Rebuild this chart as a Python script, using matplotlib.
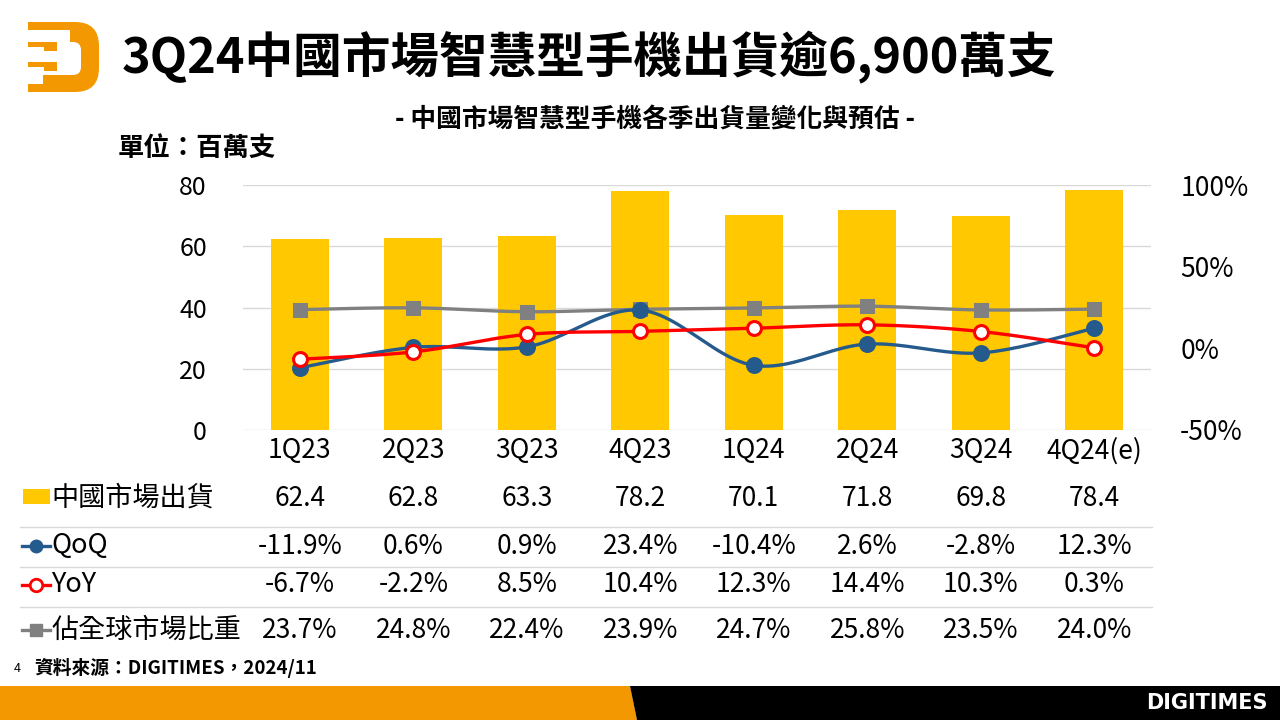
import numpy as np
import matplotlib.pyplot as plt
import matplotlib.transforms as mtransforms
from matplotlib.patches import Rectangle, FancyBboxPatch, Polygon

plt.rcParams['font.family'] = ['Noto Sans CJK TC', 'DejaVu Sans']

# 資料
quarters = ['1Q23', '2Q23', '3Q23', '4Q23', '1Q24', '2Q24', '3Q24', '4Q24(e)']
shipments = [62.4, 62.8, 63.3, 78.2, 70.1, 71.8, 69.8, 78.4]   # 百萬支
qoq = [-11.9, 0.6, 0.9, 23.4, -10.4, 2.6, -2.8, 12.3]          # %
yoy = [-6.7, -2.2, 8.5, 10.4, 12.3, 14.4, 10.3, 0.3]           # %
share = [23.7, 24.8, 22.4, 23.9, 24.7, 25.8, 23.5, 24.0]       # %

row_labels = ['中國市場出貨', 'QoQ', 'YoY', '佔全球市場比重']

BAR = '#FFC800'
BLUE = '#255A8C'
RED = '#FF0000'
GRAY = '#808080'
ORANGE = '#F39800'
GRID = '#D9D9D9'


def smooth(x, y, n=24):
    # 類似 Excel 平滑線 (Catmull-Rom -> Bezier)，只用於畫線
    p = np.column_stack([x, y]).astype(float)
    pp = np.vstack([p[0], p, p[-1]])
    t = np.linspace(0, 1, n)[:, None]
    out = []
    for i in range(len(p) - 1):
        p0, p1, p2, p3 = pp[i], pp[i + 1], pp[i + 2], pp[i + 3]
        c1 = p1 + (p2 - p0) / 6
        c2 = p2 - (p3 - p1) / 6
        seg = ((1 - t) ** 3) * p1 + 3 * ((1 - t) ** 2) * t * c1 + 3 * (1 - t) * t ** 2 * c2 + t ** 3 * p2
        out.append(seg if i == 0 else seg[1:])
    out = np.vstack(out)
    return out[:, 0], out[:, 1]


W, H = 1280, 720
fig = plt.figure(figsize=(12.8, 7.2), dpi=100)

# 主圖
ax = fig.add_axes([243 / W, 1 - 430 / H, 908 / W, 245 / H])
x = np.arange(len(quarters))
ax.bar(x, shipments, width=0.51, color=BAR, zorder=2)
ax.set_xlim(-0.5, len(quarters) - 0.5)
ax.set_ylim(0, 80)
ax.set_yticks([0, 20, 40, 60, 80])
ax.set_xticks(x)
ax.set_xticklabels(quarters)
ax.tick_params(axis='y', length=0, pad=26, labelsize=18)
ax.tick_params(axis='x', length=0, pad=5, labelsize=19)
ax.grid(axis='y', color=GRID, linewidth=1)
ax.set_axisbelow(True)
for s in ax.spines.values():
    s.set_visible(False)

ax2 = ax.twinx()
ax2.set_ylim(-50, 100)
ax2.set_yticks([-50, 0, 50, 100])
ax2.set_yticklabels(['-50%', '0%', '50%', '100%'])
ax2.tick_params(axis='y', length=0, pad=21, labelsize=19)
for s in ax2.spines.values():
    s.set_visible(False)

for vals, col, mk, ms, mfc in [(share, GRAY, 's', 9, GRAY),
                               (qoq, BLUE, 'o', 10, BLUE),
                               (yoy, RED, 'o', 10, 'white')]:
    sx, sy = smooth(x, vals)
    ax2.plot(sx, sy, color=col, linewidth=2.4, zorder=3)
    ax2.plot(x, vals, linestyle='none', marker=mk, markersize=ms,
             markerfacecolor=mfc, markeredgecolor=col, markeredgewidth=2.2, zorder=4)

# 版面裝飾用的像素座標軸
ov = fig.add_axes([0, 0, 1, 1])
ov.set_xlim(0, W)
ov.set_ylim(H, 0)
ov.axis('off')
ov.patch.set_visible(False)

# 標誌
ov.add_patch(FancyBboxPatch((43, 22), 56, 70, boxstyle='round,pad=0,rounding_size=24',
                            facecolor=ORANGE, edgecolor='none'))
ov.add_patch(Rectangle((43, 22), 30, 70, facecolor=ORANGE, edgecolor='none'))
ov.add_patch(FancyBboxPatch((50, 42), 31, 33, boxstyle='round,pad=0,rounding_size=8',
                            facecolor='white', edgecolor='none'))
ov.add_patch(Rectangle((40, 30), 30, 45, facecolor='white', edgecolor='none'))
ov.add_patch(Rectangle((28, 22), 20, 8, facecolor=ORANGE, edgecolor='none'))
ov.add_patch(Rectangle((28, 84), 20, 8, facecolor=ORANGE, edgecolor='none'))
for yy in (42, 62):
    ov.add_patch(Rectangle((28, yy), 29, 5, facecolor=ORANGE, edgecolor='none'))
    ov.add_patch(Rectangle((44, yy), 13, 9, facecolor=ORANGE, edgecolor='none'))

# 標題
ov.text(122, 57, '3Q24中國市場智慧型手機出貨逾6,900萬支', fontsize=35, fontweight='bold',
        ha='left', va='center', color='black')
ov.text(655, 120, '- 中國市場智慧型手機各季出貨量變化與預估 -', fontsize=18.5, fontweight='bold',
        ha='center', va='center')
ov.text(118, 148, '單位：百萬支', fontsize=19, fontweight='bold', ha='left', va='center')

# 下方資料表
blend = mtransforms.blended_transform_factory(ax.transData, ov.transData)
row_y = [498, 546, 585, 630]
table_vals = [
    ['%.1f' % v for v in shipments],
    ['%.1f%%' % v for v in qoq],
    ['%.1f%%' % v for v in yoy],
    ['%.1f%%' % v for v in share],
]
for ry, vals in zip(row_y, table_vals):
    for i, s in enumerate(vals):
        ov.text(i, ry, s, transform=blend, fontsize=19, ha='center', va='center')

for ry, lab in zip(row_y, row_labels):
    ov.text(51, ry, lab, fontsize=19.5, ha='left', va='center')

for sy in (527, 567, 607):
    ov.plot([20, 1152], [sy, sy], color=GRID, linewidth=1)

# 表格圖例
ov.add_patch(Rectangle((23, 489), 27, 15, facecolor=BAR, edgecolor='none'))
ov.plot([22, 50], [546, 546], color=BLUE, linewidth=2.4)
ov.plot([36], [546], marker='o', color=BLUE, markersize=9)
ov.plot([22, 50], [585, 585], color=RED, linewidth=2.4)
ov.plot([36], [585], marker='o', markerfacecolor='white', markeredgecolor=RED,
        markeredgewidth=2, markersize=9)
ov.plot([22, 50], [630, 630], color=GRAY, linewidth=2.4)
ov.plot([36], [630], marker='s', color=GRAY, markersize=8)

# 頁尾
ov.text(14, 668, '4', fontsize=9, ha='left', va='center')
ov.text(34, 668, '資料來源：DIGITIMES，2024/11', fontsize=13.5, fontweight='bold',
        ha='left', va='center')
ov.add_patch(Polygon([(0, 686), (630, 686), (637, 720), (0, 720)], closed=True,
                     facecolor=ORANGE, edgecolor='none'))
ov.add_patch(Polygon([(630, 686), (W, 686), (W, 720), (637, 720)], closed=True,
                     facecolor='black', edgecolor='none'))
ov.text(1268, 703, 'DIGITIMES', fontsize=15, fontweight='bold', color='white',
        ha='right', va='center', family=['DejaVu Sans'])

fig.savefig('out.png', dpi=100)
